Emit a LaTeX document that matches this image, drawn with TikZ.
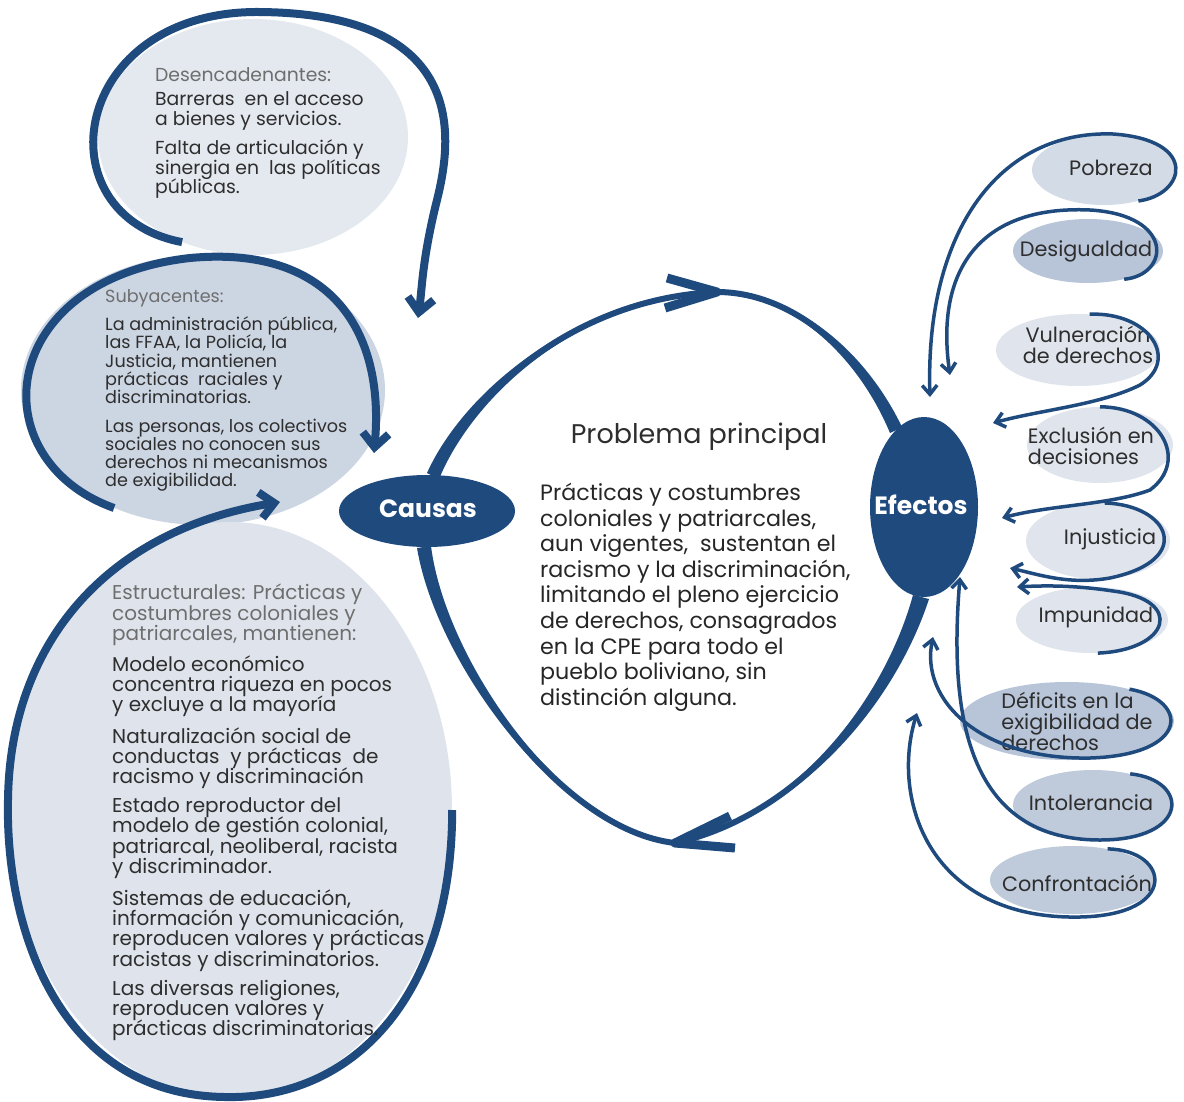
\documentclass[tikz,border=0pt]{standalone}
\usepackage{fontspec}
\setmainfont{Poppins}
\usepackage{tikz}
\usetikzlibrary{arrows.meta, shapes.geometric, positioning}

\definecolor{navy}{HTML}{1F4A7E}
\definecolor{ink}{HTML}{2E2E2E}
\definecolor{hint}{HTML}{6E6E6E}
\definecolor{paleA}{HTML}{E4E8EF}
\definecolor{paleB}{HTML}{CCD5E2}
\definecolor{paleC}{HTML}{DFE4EC}
\definecolor{mistA}{HTML}{E0E5ED}
\definecolor{mistB}{HTML}{D3DBE6}
\definecolor{mistC}{HTML}{B8C5D8}
\definecolor{mistD}{HTML}{BFCADA}

\newcommand{\snug}{\lineskiplimit -50pt\relax}

\pgfdeclarelayer{back}
\pgfsetlayers{back,main}

\begin{document}
\begin{tikzpicture}[x=1pt, y=-1pt,
		bubble/.style={ellipse, inner sep=0pt},
		hub/.style={ellipse, fill=navy, inner sep=0pt},
		hubtag/.style={text=white, font=\bfseries\fontsize{25}{30}\selectfont},
		oval/.style={ellipse, inner sep=0pt},
		tag/.style={text=ink, align=center, font=\fontsize{20.8}{21}\selectfont\snug},
		blurb/.style={anchor=north west, align=left, inner sep=0pt, text=ink},
		swirl/.style={draw=navy, line width=8pt, -{Straight Barb[length=14pt, width=26pt]}},
		link/.style={draw=navy, line width=3.5pt, -{Straight Barb[length=9pt, width=15pt]}},
		chevron/.style={draw=navy, line width=9pt, line join=round}]
	\useasboundingbox (0, 0) rectangle (1184, 1101);

	\begin{pgfonlayer}{back}
		\fill[white] (0, 0) rectangle (1184, 1101);
		\node (DesBubble) [bubble, fill=paleA, minimum width=310pt, minimum height=236pt] at (253, 137) {};
		\node (SubBubble) [bubble, fill=paleB, minimum width=364pt, minimum height=270pt] at (203, 390) {};
		\node (EstBubble) [bubble, fill=paleC, minimum width=444pt, minimum height=576pt] at (230, 810) {};
	\end{pgfonlayer}

	\node (Causas) [hub, minimum width=176pt, minimum height=72pt] at (427, 511) {};
	\node (CausasTag) [hubtag] at (428, 509) {Causas};
	\node (Efectos) [hub, minimum width=108pt, minimum height=180pt] at (924, 507) {};
	\node (EfectosTag) [hubtag] at (921, 505) {Efectos};

	\coordinate (TopTip) at (717, 292);
	\coordinate (BottomTip) at (675, 843);
	\begin{pgfonlayer}{back}
		\draw[navy, line width=6pt] (Causas.80) .. controls (468, 395) and (575, 298) .. (TopTip)
			.. controls (790, 292) and (860, 350) .. (Efectos.110);
		\draw[navy, line width=6pt] (Efectos.268) .. controls (890, 700) and (800, 815) .. (BottomTip)
			.. controls (560, 830) and (440, 660) .. (Causas.265);
		\fill[navy] (439, 479) .. controls (473, 397) and (576, 300) .. (TopTip)
			.. controls (574, 297) and (463, 393) .. (427, 473) -- cycle;
		\fill[navy] (TopTip) .. controls (790, 290) and (863, 346) .. (902, 427)
			-- (890, 433) .. controls (857, 354) and (790, 294) .. (TopTip) -- cycle;
		\fill[navy] (929, 599) .. controls (895, 703) and (801, 817) .. (BottomTip)
			.. controls (799, 813) and (885, 697) .. (913, 595) -- cycle;
		\fill[navy] (BottomTip) .. controls (561, 828) and (445, 658) .. (431, 546)
			-- (417, 548) .. controls (436, 662) and (559, 832) .. (BottomTip) -- cycle;
	\end{pgfonlayer}
	\draw[chevron] (667, 278) -- (TopTip) -- (665, 308);
	\draw[chevron] (730, 816) -- (BottomTip) -- (735, 848);

	\coordinate (DesTip) at (418, 318);
	\coordinate (SubTip) at (374, 453);
	\coordinate (EstTip) at (280, 502);
	\draw[swirl] (DesBubble.236) .. controls (40, 215) and (70, 10) .. (260, 12)
		.. controls (470, 14) and (452, 140) .. (437, 200) .. controls (422, 260) and (422, 290) .. (DesTip);
	\draw[swirl] (SubBubble.233) .. controls (-20, 460) and (-5, 280) .. (190, 258)
		.. controls (330, 245) and (385, 330) .. (SubTip);
	\draw[swirl] (EstBubble.0) .. controls (452, 1000) and (350, 1100) .. (225, 1097)
		.. controls (60, 1095) and (5, 930) .. (8, 800) .. controls (10, 640) and (110, 530) .. (EstTip);

	\node (DesText) [blurb, font=\fontsize{18.8}{19.5}\selectfont\snug] at (155, 67) {\textcolor{hint}{Desencadenantes:}\\[5pt]
		Barreras\ \ en el acceso\\ a bienes y servicios.\\[10pt]
		Falta de articulación y\\ sinergia en\ \ las políticas\\ públicas.};
	\node (SubText) [blurb, font=\fontsize{17.6}{18.3}\selectfont\snug] at (105, 289) {\textcolor{hint}{Subyacentes:}\\[10pt]
		La administración pública,\\ las FFAA, la Policía, la\\ Justicia, mantienen\\ prácticas\ \ raciales y\\ discriminatorias.\\[10pt]
		Las personas, los colectivos\\ sociales no conocen sus\\ derechos ni mecanismos\\ de exigibilidad.};
	\node (EstText) [blurb, font=\fontsize{20}{20.2}\selectfont\snug] at (112, 584) {\textcolor{hint}{Estructurales: Prácticas y}\\
		\textcolor{hint}{costumbres coloniales y}\\ \textcolor{hint}{patriarcales, mantienen:}\\[11pt]
		Modelo económico\\ concentra riqueza en pocos\\ y excluye a la mayoría\\[11pt]
		Naturalización social de\\ conductas\ \ y prácticas\ \ de\\ racismo y discriminación\\[9pt]
		Estado reproductor del\\ modelo de gestión colonial,\\ patriarcal, neoliberal, racista\\ y discriminador.\\[12pt]
		Sistemas de educación,\\ información y comunicación,\\ reproducen valores y prácticas\\ racistas y discriminatorios.\\[9pt]
		Las diversas religiones,\\ reproducen valores y\\ prácticas discriminatorias.};

	\node (Title) [text=ink, font=\fontsize{27}{30}\selectfont] at (699, 437) {Problema principal};
	\node (Problem) [blurb, text=black!85, font=\fontsize{22.2}{25.6}\selectfont\snug] at (540, 483) {Prácticas y costumbres\\
		coloniales y patriarcales,\\ aun vigentes,\ \ sustentan el\\ racismo y la discriminación,\\ limitando el pleno ejercicio\\
		de derechos, consagrados\\ en la CPE para todo el\\ pueblo boliviano, sin\\ distinción alguna.};

	\node (Pobreza) [oval, fill=mistB, minimum width=144pt, minimum height=70pt] at (1104, 170) {};
	\node (Desigualdad) [oval, fill=mistC, minimum width=150pt, minimum height=64pt] at (1088, 251) {};
	\node (Vulneracion) [oval, fill=mistA, minimum width=164pt, minimum height=72pt] at (1078, 350) {};
	\node (Exclusion) [oval, fill=mistA, minimum width=146pt, minimum height=76pt] at (1100, 445) {};
	\node (Injusticia) [oval, fill=mistA, minimum width=144pt, minimum height=76pt] at (1098, 541) {};
	\node (Impunidad) [oval, fill=mistA, minimum width=152pt, minimum height=66pt] at (1092, 620) {};
	\node (Deficits) [oval, fill=mistC, minimum width=214pt, minimum height=78pt] at (1067, 721) {};
	\node (Intolerancia) [oval, fill=mistD, minimum width=160pt, minimum height=70pt] at (1093, 805) {};
	\node (Confrontacion) [oval, fill=mistD, minimum width=166pt, minimum height=68pt] at (1073, 880) {};

	\node (PobrezaTag) [tag] at (1111, 168) {Pobreza};
	\node (DesigualdadTag) [tag] at (1086, 251) {Desigualdad};
	\node (VulneracionTag) [tag] at (1088, 345) {Vulneración\\de derechos};
	\node (ExclusionTag) [tag, align=left] at (1091, 446) {Exclusión en\\decisiones};
	\node (InjusticiaTag) [tag] at (1110, 539) {Injusticia};
	\node (ImpunidadTag) [tag] at (1096, 617) {Impunidad};
	\node (DeficitsTag) [tag, align=left] at (1077, 721) {Déficits en la\\exigibilidad de\\derechos};
	\node (IntoleranciaTag) [tag] at (1091, 803) {Intolerancia};
	\node (ConfrontacionTag) [tag] at (1077, 883) {Confrontación};

	\coordinate (PobTip) at (930, 397);
	\coordinate (DesigTip) at (950, 375);
	\coordinate (VulTip) at (993, 423);
	\coordinate (ExcTip) at (1002, 518);
	\coordinate (InjTip) at (1010, 568);
	\coordinate (ImpTip) at (1017, 587);
	\coordinate (DefTip) at (933, 637);
	\coordinate (IntTip) at (960, 577);
	\coordinate (ConTip) at (917, 713);
	\draw[link] (Pobreza.318) .. controls (1185, 195) and (1200, 140) .. (1113, 134)
		.. controls (1000, 130) and (925, 230) .. (PobTip);
	\draw[link] (Desigualdad.322) .. controls (1170, 275) and (1175, 215) .. (1090, 210)
		.. controls (980, 205) and (935, 270) .. (DesigTip);
	\draw[link] (Vulneracion.72) .. controls (1150, 312) and (1180, 360) .. (1140, 385)
		.. controls (1100, 405) and (1040, 410) .. (VulTip);
	\draw[link] (Exclusion.90) .. controls (1160, 407) and (1190, 460) .. (1150, 490)
		.. controls (1110, 505) and (1050, 505) .. (ExcTip);
	\draw[link] (Injusticia.80) .. controls (1170, 505) and (1195, 560) .. (1110, 578)
		.. controls (1070, 585) and (1040, 575) .. (InjTip);
	\draw[link] (Impunidad.280) .. controls (1170, 650) and (1185, 600) .. (1113, 591)
		.. controls (1080, 586) and (1050, 585) .. (ImpTip);
	\draw[link] (Deficits.27) .. controls (1190, 700) and (1190, 755) .. (1090, 758)
		.. controls (980, 760) and (920, 700) .. (DefTip);
	\draw[link] (Intolerancia.40) .. controls (1190, 780) and (1190, 840) .. (1100, 840)
		.. controls (960, 840) and (950, 700) .. (IntTip);
	\draw[link] (Confrontacion.42) .. controls (1170, 850) and (1180, 915) .. (1080, 917)
		.. controls (930, 920) and (890, 800) .. (ConTip);
\end{tikzpicture}
\end{document}
